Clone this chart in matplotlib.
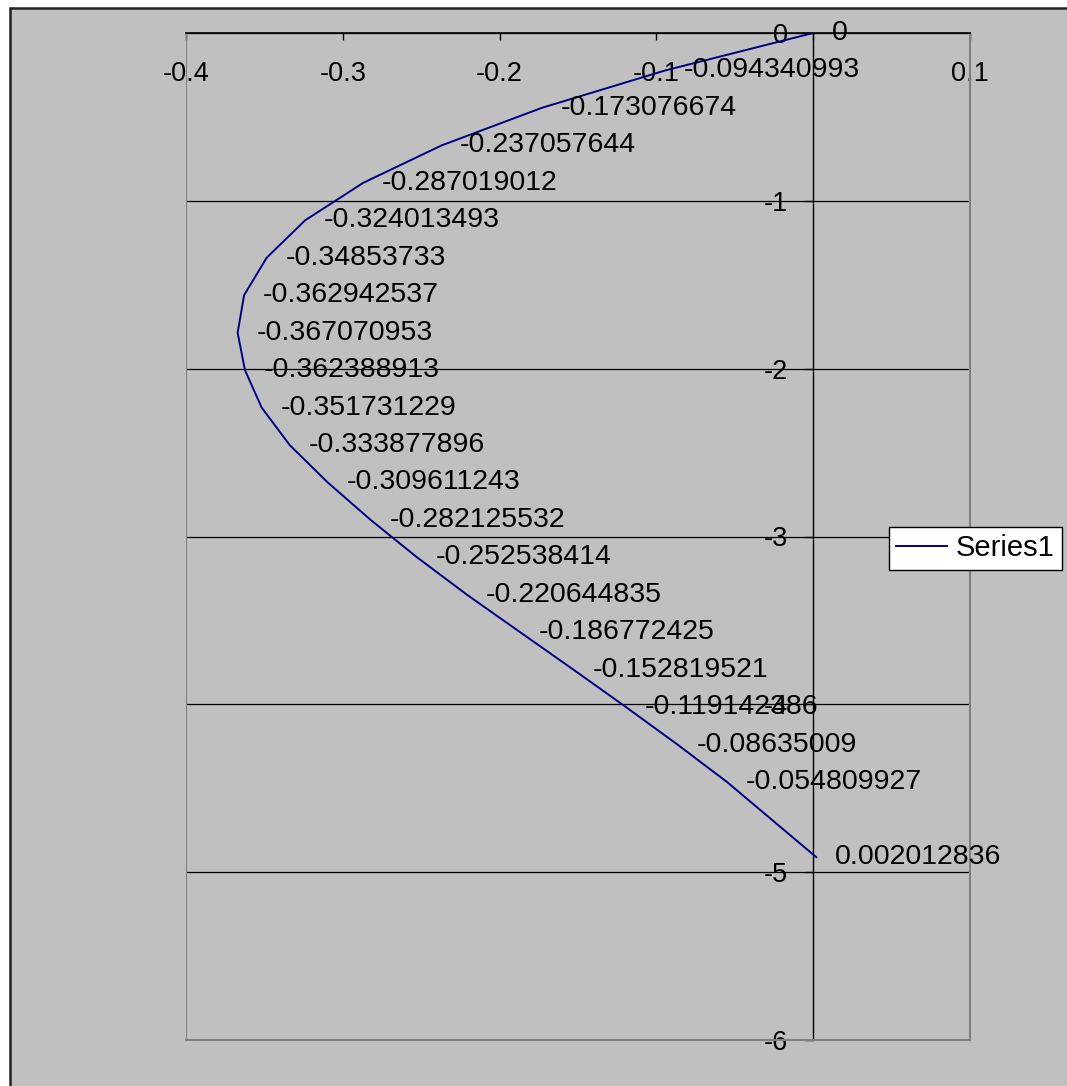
import matplotlib
matplotlib.use('Agg')
import matplotlib.pyplot as plt
from matplotlib.patches import Rectangle

plt.rcParams['font.family'] = ['Liberation Sans', 'DejaVu Sans']

# x values (also used as the point labels) and depth values
x_vals = [0, -0.094340993, -0.173076674, -0.237057644, -0.287019012, -0.324013493,
          -0.34853733, -0.362942537, -0.367070953, -0.362388913, -0.351731229,
          -0.333877896, -0.309611243, -0.282125532, -0.252538414, -0.220644835,
          -0.186772425, -0.152819521, -0.119142386, -0.08635009, -0.054809927,
          0.002012836]
y_vals = [0, -0.223, -0.446, -0.670, -0.893, -1.116, -1.339, -1.562, -1.786,
          -2.009, -2.232, -2.455, -2.678, -2.902, -3.125, -3.348, -3.571, -3.794,
          -4.018, -4.241, -4.464, -4.911]
x_ticks = [-0.4, -0.3, -0.2, -0.1, 0, 0.1]
x_tick_labels = ['-0.4', '-0.3', '-0.2', '-0.1', '', '0.1']
y_ticks = [0, -1, -2, -3, -4, -5, -6]
series_name = 'Series1'

W, H = 1067, 1086
fig = plt.figure(figsize=(W / 100, H / 100), dpi=100)
fig.patch.set_facecolor('white')

# chart area (cropped on the right and bottom)
fig.patches.append(Rectangle((10 / W, -0.1), 1.2, 1 - 8 / H + 0.1, transform=fig.transFigure,
                             facecolor='#C0C0C0', edgecolor='#222222', linewidth=1.8, zorder=-1))

ax = fig.add_axes([186 / W, 1 - 1040 / H, (970 - 186) / W, (1040 - 33) / H])
ax.set_facecolor('#C0C0C0')
ax.set_xlim(-0.4, 0.1)
ax.set_ylim(-6, 0)

ax.plot(x_vals, y_vals, color='#000080', linewidth=1.4, label=series_name, zorder=3)

for xv, yv in zip(x_vals, y_vals):
    ax.annotate(f'{xv:.10g}', (xv, yv), xytext=(13.5, 0), textcoords='offset points',
                ha='left', va='center', fontsize=20.5, color='black', zorder=4)

# spines: y axis crosses at x=0, x axis at y=0 (top)
ax.spines['left'].set_position(('data', 0))
ax.spines['left'].set_color('black')
ax.spines['left'].set_linewidth(1.0)
ax.spines['top'].set_color('black')
ax.spines['top'].set_linewidth(1.2)
for s in ['right', 'bottom']:
    ax.spines[s].set_color('#808080')
    ax.spines[s].set_linewidth(1.5)
ax.axvline(-0.4, color='#808080', linewidth=1.5, zorder=2.5)

ax.set_axisbelow(True)
ax.yaxis.grid(True, color='black', linewidth=0.9)

ax.xaxis.tick_top()
ax.set_xticks(x_ticks)
ax.set_xticklabels(x_tick_labels)
ax.tick_params(axis='x', direction='in', length=5, width=1, color='black',
               pad=-39, labelsize=19.5)
ax.set_yticks(y_ticks)
ax.set_yticklabels([str(v) for v in y_ticks])
ax.tick_params(axis='y', direction='out', length=6, width=1, color='black',
               pad=12, labelsize=19.5)
ax.tick_params(right=False, bottom=False)

leg = ax.legend(loc='center left', bbox_to_anchor=(889 / W, 1 - 548.5 / H),
                bbox_transform=fig.transFigure, fancybox=False, framealpha=1,
                edgecolor='black', fontsize=21, borderaxespad=0, borderpad=0.25,
                handlelength=1.75, handletextpad=0.3)
leg.get_frame().set_linewidth(1.0)

fig.savefig('out.png', dpi=100)
